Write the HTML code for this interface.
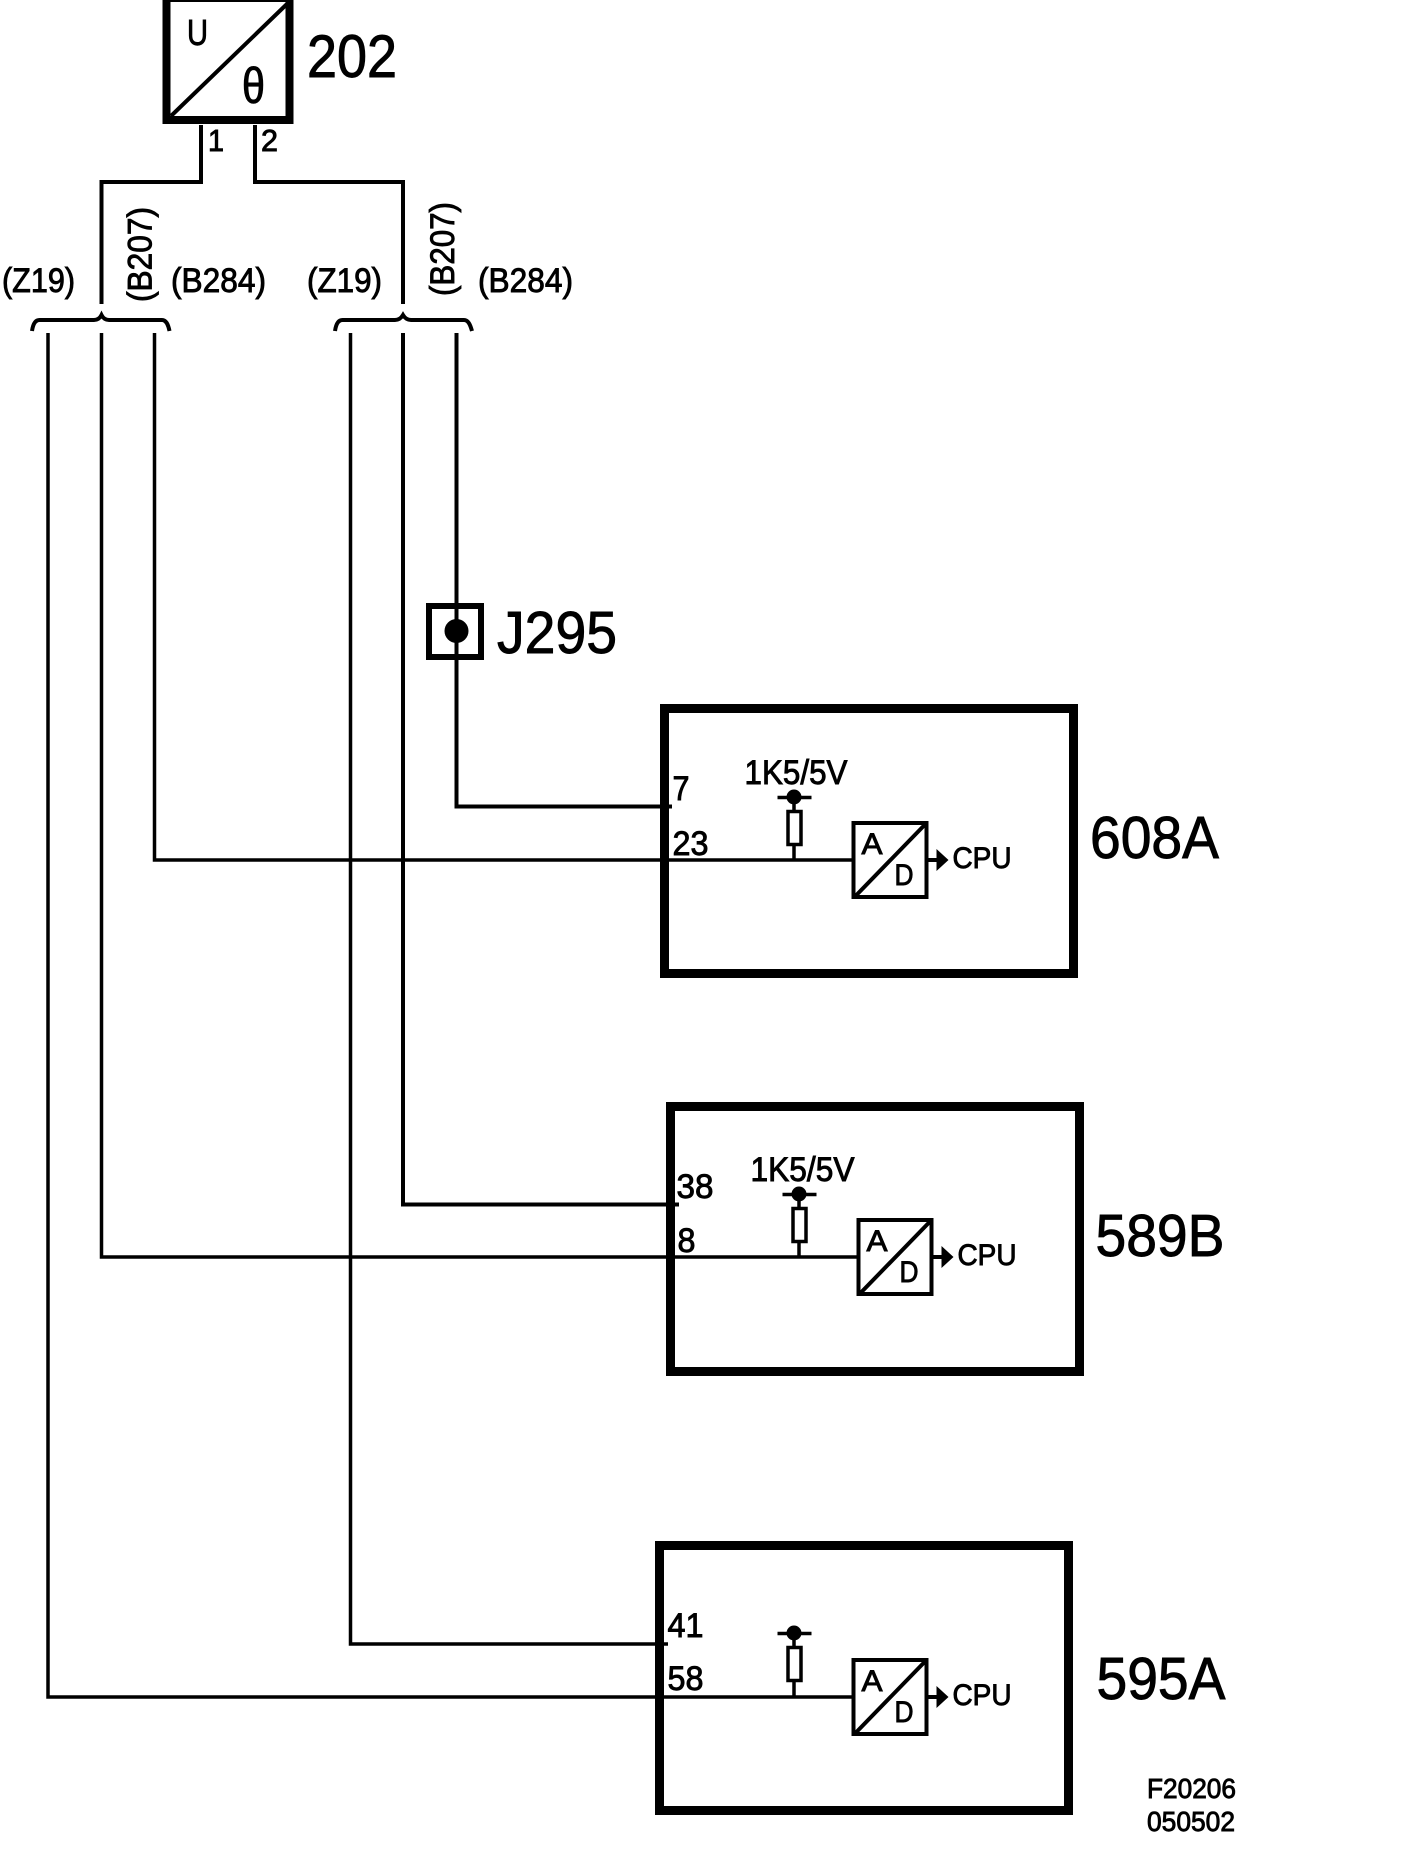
<!DOCTYPE html>
<html>
<head>
<meta charset="utf-8">
<style>
html,body{margin:0;padding:0;background:#fff;}
svg{display:block;}
text{font-family:"Liberation Sans",sans-serif;fill:#000;stroke:#000;stroke-width:.9px;}
</style>
</head>
<body>
<svg xmlns="http://www.w3.org/2000/svg" width="1408" height="1852" viewBox="0 0 1408 1852">
<rect width="1408" height="1852" fill="#fff"/>
<defs>
<g id="ad">
  <rect x="856" y="823" width="73" height="74" fill="#fff" stroke="#000" stroke-width="4"/>
  <line x1="858" y1="896" x2="929" y2="823" stroke="#000" stroke-width="4"/>
  <line x1="931" y1="860" x2="942" y2="860" stroke="#000" stroke-width="4"/>
  <polygon points="939,849 951,860 939,871" fill="#000"/>
  <text x="864" y="854" font-size="30" textLength="21" lengthAdjust="spacingAndGlyphs">A</text>
  <text x="897" y="885" font-size="30" textLength="19" lengthAdjust="spacingAndGlyphs">D</text>
  <text x="955" y="868" font-size="30" textLength="59" lengthAdjust="spacingAndGlyphs">CPU</text>
</g>
<g id="res">
  <circle cx="795.5" cy="797" r="7.5" fill="#000"/>
  <line x1="779" y1="797.5" x2="813" y2="797.5" stroke="#000" stroke-width="3.5"/>
  <line x1="795.5" y1="800" x2="795.5" y2="860" stroke="#000" stroke-width="3.5"/>
  <rect x="789.5" y="811.5" width="13" height="33" fill="#fff" stroke="#000" stroke-width="3.5"/>
</g>
</defs>

<!-- Sensor 202 -->
<rect x="166.500" y="-2" width="123" height="122" fill="#fff" stroke="#000" stroke-width="8"/>
<line x1="171" y1="116" x2="288" y2="3" stroke="#000" stroke-width="4"/>
<text x="187" y="45" font-size="36" textLength="21" lengthAdjust="spacingAndGlyphs">U</text>
<text x="242" y="103" font-size="50" textLength="23" lengthAdjust="spacingAndGlyphs">θ</text>
<text x="307" y="77" font-size="60" textLength="90" lengthAdjust="spacingAndGlyphs">202</text>
<text x="208" y="151" font-size="31" textLength="16" lengthAdjust="spacingAndGlyphs">1</text>
<text x="261" y="151" font-size="31" textLength="17" lengthAdjust="spacingAndGlyphs">2</text>

<!-- Upper wiring -->
<g fill="none" stroke="#000" stroke-width="3.5">
  <path d="M201 125V182H101.500V304" stroke-width="4"/>
  <path d="M255 125V182H403V304" stroke-width="4"/>
  <!-- braces -->
  <path d="M32 331C33 324 35.500 320 39.500 320H94Q99 320 101.500 315Q104 320 109 320H162C166 320 168 324 169.500 331" stroke-width="4"/>
  <path d="M335 331C336 324 338.500 320 342.500 320H395Q400 320 403 315Q406 320 411 320H464C468 320 470 324 472 331" stroke-width="4"/>
  <!-- lower wires -->
  <path d="M48 333V1697H855"/>
  <path d="M101.500 333V1257H860"/>
  <path d="M154.500 333V860H856"/>
  <path d="M350.500 333V1644H668"/>
  <path d="M456.500 333V806.500H672" stroke-width="4"/>
</g>

<!-- Bus labels -->
<g font-size="34">
  <text x="2" y="292" textLength="73" lengthAdjust="spacingAndGlyphs">(Z19)</text>
  <text x="171" y="292" textLength="95" lengthAdjust="spacingAndGlyphs">(B284)</text>
  <text x="307" y="292" textLength="75" lengthAdjust="spacingAndGlyphs">(Z19)</text>
  <text x="478" y="292" textLength="95" lengthAdjust="spacingAndGlyphs">(B284)</text>
  <text transform="translate(151.500 302) rotate(-90)" textLength="95" lengthAdjust="spacingAndGlyphs">(B207)</text>
  <text transform="translate(454 296) rotate(-90)" textLength="94" lengthAdjust="spacingAndGlyphs">(B207)</text>
</g>

<!-- J295 -->
<rect x="429" y="606" width="52" height="51" fill="none" stroke="#000" stroke-width="6"/>
<circle cx="456.500" cy="631" r="12" fill="#000"/>
<text x="497" y="653" font-size="59" textLength="120" lengthAdjust="spacingAndGlyphs">J295</text>

<!-- 608A -->
<g transform="translate(-2.500 0)">
<rect x="667" y="708.500" width="409" height="265" fill="none" stroke="#000" stroke-width="9"/>
<use href="#ad"/>
<use href="#res" transform="translate(1 0)"/>
<text x="675" y="800" font-size="34" textLength="17" lengthAdjust="spacingAndGlyphs">7</text>
<text x="675" y="855" font-size="34" textLength="36" lengthAdjust="spacingAndGlyphs">23</text>
<text x="747" y="784" font-size="34" textLength="103" lengthAdjust="spacingAndGlyphs">1K5/5V</text>
<text x="1092.500" y="858" font-size="59" textLength="129" lengthAdjust="spacingAndGlyphs">608A</text>
</g>

<!-- 589B -->
<g transform="translate(-2.500 0)">
<rect x="673" y="1106.500" width="409" height="265" fill="none" stroke="#000" stroke-width="9"/>
<use href="#ad" transform="translate(5 397)"/>
<use href="#res" transform="translate(6 397)"/>
<text x="679" y="1198" font-size="34" textLength="37" lengthAdjust="spacingAndGlyphs">38</text>
<text x="680" y="1252" font-size="34" textLength="18" lengthAdjust="spacingAndGlyphs">8</text>
<text x="753" y="1181" font-size="34" textLength="104" lengthAdjust="spacingAndGlyphs">1K5/5V</text>
<text x="1098" y="1256" font-size="59" textLength="129" lengthAdjust="spacingAndGlyphs">589B</text>
</g>

<!-- wire into pin 38, drawn over the module border so its tick shows inside -->
<path d="M403 333V1204.500H679" fill="none" stroke="#000" stroke-width="4"/>

<!-- 595A -->
<g transform="translate(-1.500 0)">
<rect x="661" y="1545.500" width="409" height="265" fill="none" stroke="#000" stroke-width="9"/>
<use href="#ad" transform="translate(-1 837)"/>
<use href="#res" transform="translate(0 836)"/>
<text x="669" y="1637" font-size="34" textLength="36" lengthAdjust="spacingAndGlyphs">41</text>
<text x="669" y="1690" font-size="34" textLength="36" lengthAdjust="spacingAndGlyphs">58</text>
<text x="1098" y="1699" font-size="59" textLength="129" lengthAdjust="spacingAndGlyphs">595A</text>
</g>

<!-- Figure reference -->
<text x="1147" y="1798" font-size="28" textLength="89" lengthAdjust="spacingAndGlyphs">F20206</text>
<text x="1147" y="1831" font-size="28" textLength="88" lengthAdjust="spacingAndGlyphs">050502</text>
</svg>
</body>
</html>
